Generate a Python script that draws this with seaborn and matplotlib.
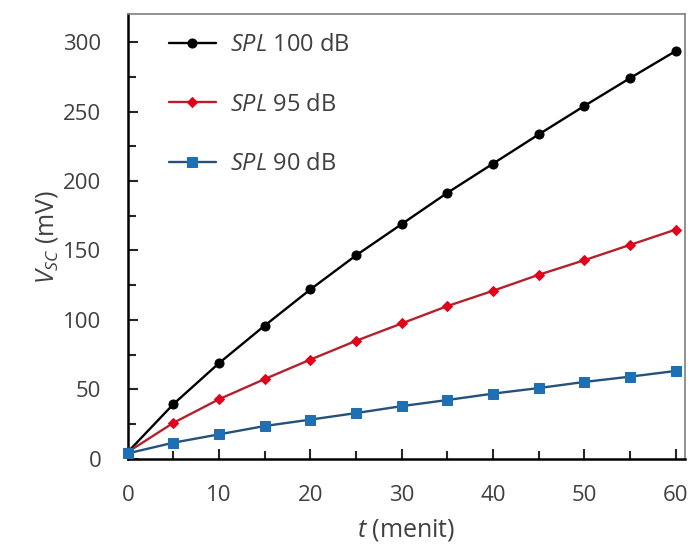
import matplotlib
matplotlib.use("Agg")
import matplotlib.pyplot as plt
import seaborn as sns
import pandas as pd
from matplotlib.ticker import MultipleLocator

t_menit = [0, 5, 10, 15, 20, 25, 30, 35, 40, 45, 50, 55, 60]
spl_100 = [5, 39.5, 69, 96, 122, 146.5, 169, 191.5, 212.5, 233.5, 254, 274, 293.5]
spl_95 = [5, 26, 43, 57.5, 71.5, 85, 97.5, 110, 121, 132.5, 143, 154, 165]
spl_90 = [4, 11.7, 17.7, 23.7, 28.3, 33, 38, 42.4, 47, 51, 55.4, 59.2, 63.3]
labels = [r"$\it{SPL}$ 100 dB", r"$\it{SPL}$ 95 dB", r"$\it{SPL}$ 90 dB"]

sns.set_style("white")
plt.rcParams['font.family'] = ['Open Sans', 'DejaVu Sans']
plt.rcParams['mathtext.fontset'] = 'custom'
plt.rcParams['mathtext.it'] = 'Open Sans:italic'
plt.rcParams['mathtext.rm'] = 'Open Sans'

fig = plt.figure(figsize=(6.91, 5.47), dpi=100)
ax = fig.add_axes([0.185, 0.161, 0.806, 0.813])

styles = [
    (spl_100, "black", "black", "o", 6.5),
    (spl_95, "#b3212c", "#e2001a", "D", 5.5),
    (spl_90, "#24527a", "#1f6fb4", "s", 6.5),
]
for (vals, lc, mc, mk, ms), lab in zip(styles, labels):
    df = pd.DataFrame({"t": t_menit, "v": vals})
    sns.lineplot(data=df, x="t", y="v", ax=ax, color=lc, lw=1.7, marker=mk,
                 markersize=ms, markerfacecolor=mc, markeredgecolor=mc,
                 label=lab, clip_on=False, zorder=3)

ax.set_xlim(0, 61)
ax.set_ylim(0, 320)
ax.xaxis.set_major_locator(MultipleLocator(10))
ax.xaxis.set_minor_locator(MultipleLocator(5))
ax.yaxis.set_major_locator(MultipleLocator(50))
ax.yaxis.set_minor_locator(MultipleLocator(25))
ax.set_yticks([0, 50, 100, 150, 200, 250, 300])
ax.tick_params(axis='both', which='both', direction='in', labelsize=16,
               labelcolor='#404040', bottom=True, left=True, top=False, right=False)
ax.tick_params(axis='both', which='major', length=7, width=1.5)
ax.tick_params(axis='both', which='minor', length=6, width=1.5)
ax.tick_params(axis='y', which='major', pad=19)
ax.tick_params(axis='x', which='major', pad=19)

for s in ['left', 'bottom']:
    ax.spines[s].set_color('black')
    ax.spines[s].set_linewidth(1.8)
for s in ['top', 'right']:
    ax.spines[s].set_color('#7f7f7f')
    ax.spines[s].set_linewidth(1.2)

ax.set_xlabel(r"$\it{t}$ (menit)", fontsize=18, color='#404040', labelpad=8)
ax.set_ylabel(r"$\it{V}_{\it{SC}}$ (mV)", fontsize=18, color='#404040', labelpad=2)

leg = ax.legend(loc='upper left', frameon=False, fontsize=17, labelspacing=1.5,
                handlelength=2.0, handletextpad=0.6, bbox_to_anchor=(0.035, 1.005))
for txt in leg.get_texts():
    txt.set_color('#404040')

fig.savefig("out.png", dpi=100)
